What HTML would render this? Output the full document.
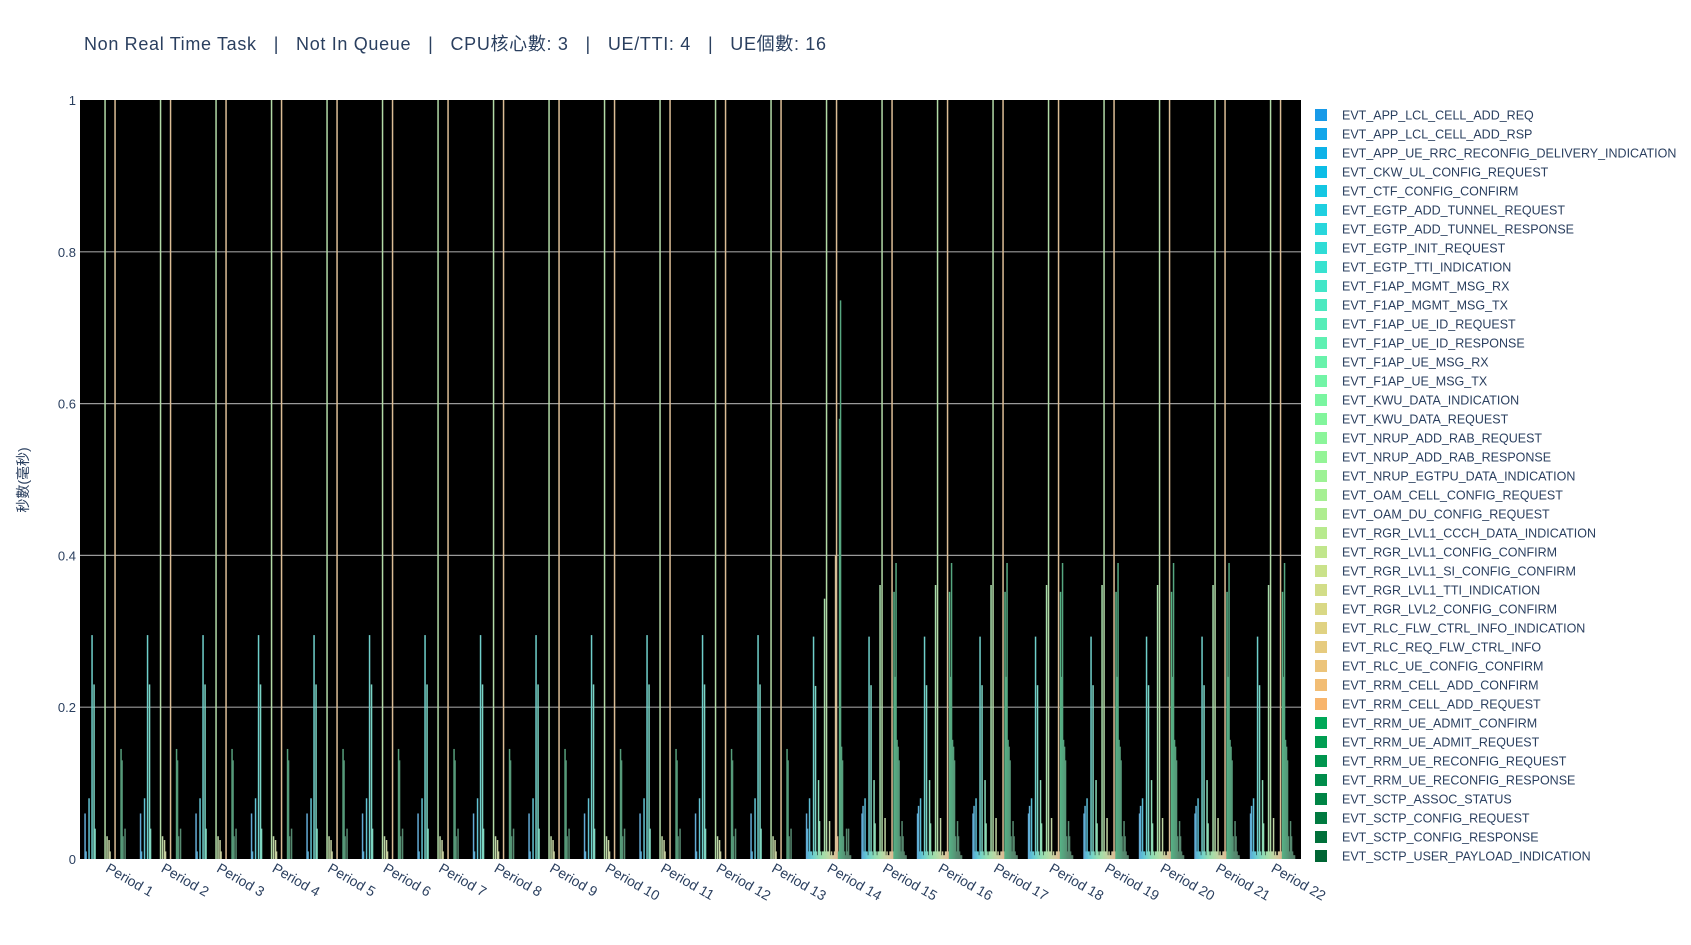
<!DOCTYPE html>
<html><head><meta charset="utf-8">
<style>
html,body{margin:0;padding:0;background:#fff;}
body{width:1691px;height:940px;overflow:hidden;position:relative;font-family:"Liberation Sans","Noto Sans CJK TC",sans-serif;}
svg text{font-family:"Liberation Sans","Noto Sans CJK TC",sans-serif;}
</style></head>
<body>
<svg id="chart" width="1691" height="940" xmlns="http://www.w3.org/2000/svg">
  <text x="84" y="50" font-size="18" fill="#2a3f5f" textLength="742" lengthAdjust="spacing" xml:space="preserve">Non Real Time Task   |   Not In Queue   |   CPU核心數: 3   |   UE/TTI: 4   |   UE個數: 16</text>
  <rect x="80" y="100" width="1221" height="759" fill="#000"/>
  <g id="grid"></g>
  <defs>
    <clipPath id="pc"><rect x="80" y="100" width="1221" height="759"/></clipPath>
    <clipPath id="lc"><rect x="1305" y="95" width="386" height="769"/></clipPath>
  </defs>
  <g id="bars" clip-path="url(#pc)"></g>
  <g id="yticks"></g>
  <g id="xticks"></g>
  <text transform="translate(28,480) rotate(-90)" text-anchor="middle" font-size="14" fill="#2a3f5f">秒數(毫秒)</text>
  <g id="legend" clip-path="url(#lc)"></g>
</svg>
<script>
const categories = ["Period 1","Period 2","Period 3","Period 4","Period 5","Period 6","Period 7","Period 8","Period 9","Period 10","Period 11","Period 12","Period 13","Period 14","Period 15","Period 16","Period 17","Period 18","Period 19","Period 20","Period 21","Period 22"];
const traceNames = ["EVT_APP_LCL_CELL_ADD_REQ","EVT_APP_LCL_CELL_ADD_RSP","EVT_APP_UE_RRC_RECONFIG_DELIVERY_INDICATION","EVT_CKW_UL_CONFIG_REQUEST","EVT_CTF_CONFIG_CONFIRM","EVT_EGTP_ADD_TUNNEL_REQUEST","EVT_EGTP_ADD_TUNNEL_RESPONSE","EVT_EGTP_INIT_REQUEST","EVT_EGTP_TTI_INDICATION","EVT_F1AP_MGMT_MSG_RX","EVT_F1AP_MGMT_MSG_TX","EVT_F1AP_UE_ID_REQUEST","EVT_F1AP_UE_ID_RESPONSE","EVT_F1AP_UE_MSG_RX","EVT_F1AP_UE_MSG_TX","EVT_KWU_DATA_INDICATION","EVT_KWU_DATA_REQUEST","EVT_NRUP_ADD_RAB_REQUEST","EVT_NRUP_ADD_RAB_RESPONSE","EVT_NRUP_EGTPU_DATA_INDICATION","EVT_OAM_CELL_CONFIG_REQUEST","EVT_OAM_DU_CONFIG_REQUEST","EVT_RGR_LVL1_CCCH_DATA_INDICATION","EVT_RGR_LVL1_CONFIG_CONFIRM","EVT_RGR_LVL1_SI_CONFIG_CONFIRM","EVT_RGR_LVL1_TTI_INDICATION","EVT_RGR_LVL2_CONFIG_CONFIRM","EVT_RLC_FLW_CTRL_INFO_INDICATION","EVT_RLC_REQ_FLW_CTRL_INFO","EVT_RLC_UE_CONFIG_CONFIRM","EVT_RRM_CELL_ADD_CONFIRM","EVT_RRM_CELL_ADD_REQUEST","EVT_RRM_UE_ADMIT_CONFIRM","EVT_RRM_UE_ADMIT_REQUEST","EVT_RRM_UE_RECONFIG_REQUEST","EVT_RRM_UE_RECONFIG_RESPONSE","EVT_SCTP_ASSOC_STATUS","EVT_SCTP_CONFIG_REQUEST","EVT_SCTP_CONFIG_RESPONSE","EVT_SCTP_USER_PAYLOAD_INDICATION","EVT_UDP_DATA_INDICATION","EVT_UE_CONTEXT_RELEASE","EVT_WLS_RX_INDICATION","EVT_WLS_TX_REQUEST","EVT_XN_SETUP_REQUEST","EVT_XN_SETUP_RESPONSE"];
const traceColors = ["#189ae8","#12a6ea","#0db2e8","#0cbde6","#14c6e2","#1fcfe0","#29d6dc","#2fdcd6","#38e2d0","#42e6c8","#4ce9c0","#56edb8","#5ff0b2","#68f2ab","#72f4a6","#7af5a0","#82f59c","#8bf59a","#94f497","#9df295","#a6f093","#afed90","#b8ea8e","#c1e68c","#cae28a","#d2dd88","#d9d885","#e0d282","#e6cb7f","#ecc47a","#f2bd74","#f8b56c","#00a858","#009e52","#00954e","#008c4a","#008445","#007a40","#00703a","#006534","#005f30","#005a2d","#00552a","#005028","#004b25","#004622"];
// values per trace index (seconds), one profile per period group
const profileEarly = [0.06,0.01,0,0,0.08,0,0,0.295,0,0.23,0.04,0,0,0,0,0,0,0,0,0,1.5,0,0.03,0,0.025,0.01,0,0,0,0,1.5,0,0,0,0,0,0.145,0.13,0.03,0,0.04,0,0,0,0,0];
const profilePeriod14 = [0.06,0.04,0.01,0.08,0.01,0.01,0.005,0.293,0.01,0.228,0.01,0.005,0.104,0.05,0.01,0.005,0.01,0.01,0.343,0.01,1.5,0.01,0.01,0.05,0.005,0.01,0.005,0.005,0.01,0.40,1.5,0.03,0.01,0.58,0.736,0.148,0.13,0.03,0.01,0.005,0.04,0.01,0.04,0.005,0.005,0];
const profileLate = [0.06,0.07,0.01,0.08,0.01,0.01,0.005,0.293,0.01,0.229,0.01,0.005,0.104,0.047,0.01,0.005,0.01,0.01,0.361,0.01,1.5,0.01,0.01,0.054,0.005,0.01,0.005,0.005,0.01,0.01,1.5,0.01,0.352,0.24,0.39,0.157,0.148,0.13,0.03,0.01,0.05,0.03,0.01,0.005,0.005,0];
const periodProfile = ["early","early","early","early","early","early","early","early","early","early","early","early","early","p14","late","late","late","late","late","late","late","late"];
const yTickValues = [0,0.2,0.4,0.6,0.8,1];
const yTickLabels = ["0","0.2","0.4","0.6","0.8","1"];

const NS="http://www.w3.org/2000/svg";
const X0=80, X1=1301, Y0=859, Y1=100;
const pw=(X1-X0)/categories.length;
const xBand = i => X0 + i*pw;
const yScale = v => Y0 - (v/1)*(Y0-Y1);
const barW = 1.5;
function profileFor(p){ const k=periodProfile[p]; return k==="early"?profileEarly:(k==="p14"?profilePeriod14:profileLate); }
function mute(hex){
  const r=parseInt(hex.slice(1,3),16),g=parseInt(hex.slice(3,5),16),b=parseInt(hex.slice(5,7),16);
  const m=c=>Math.round(c*0.55+190*0.45);
  return "rgb("+m(r)+","+m(g)+","+m(b)+")";
}
function mk(tag,attrs,parent){const e=document.createElementNS(NS,tag);for(const k in attrs)e.setAttribute(k,attrs[k]);parent.appendChild(e);return e;}

const grid=document.getElementById('grid');
yTickValues.forEach((v,i)=>{
  if(v>0 && v<1){
    const l=mk('line',{x1:X0,x2:X1,y1:yScale(v),y2:yScale(v),stroke:"#9a9a9a","stroke-width":1.2},grid);
    
    
  }
  const t=mk('text',{x:76,y:yScale(v)+5,"text-anchor":"end","font-size":13,fill:"#2a3f5f"},document.getElementById('yticks'));
  t.textContent=yTickLabels[i];
  
  
});

const bars=document.getElementById('bars');
categories.forEach((c,p)=>{
  const prof=profileFor(p);
  const start=xBand(p)+4.3;
  prof.forEach((v,i)=>{
    if(v<=0) return;
    const y=yScale(v);
    const r=mk('rect',{x:start+i*1.0,y:y,width:barW,height:Y0-y,fill:mute(traceColors[i])},bars);
    
    
  });
  const tx=xBand(p)+pw/2-3, ty=871;
  const t=mk('text',{x:tx,y:ty,"font-size":14,fill:"#2a3f5f",transform:"rotate(30 "+tx+" "+ty+")"},document.getElementById('xticks'));
  t.textContent=c;
  
  
});

const lg=document.getElementById('legend');
traceNames.forEach((n,i)=>{
  const cy=115+i*19.0;
  if(cy>870) return;
  const g=mk('g',{},lg);
  
  
  mk('rect',{x:1315,y:cy-6,width:12,height:12,fill:traceColors[i]},g);
  const t=mk('text',{x:1342,y:cy+4.5,"font-size":12.5,fill:"#2a3f5f"},g);
  t.textContent=n;
});
</script>
</body></html>
